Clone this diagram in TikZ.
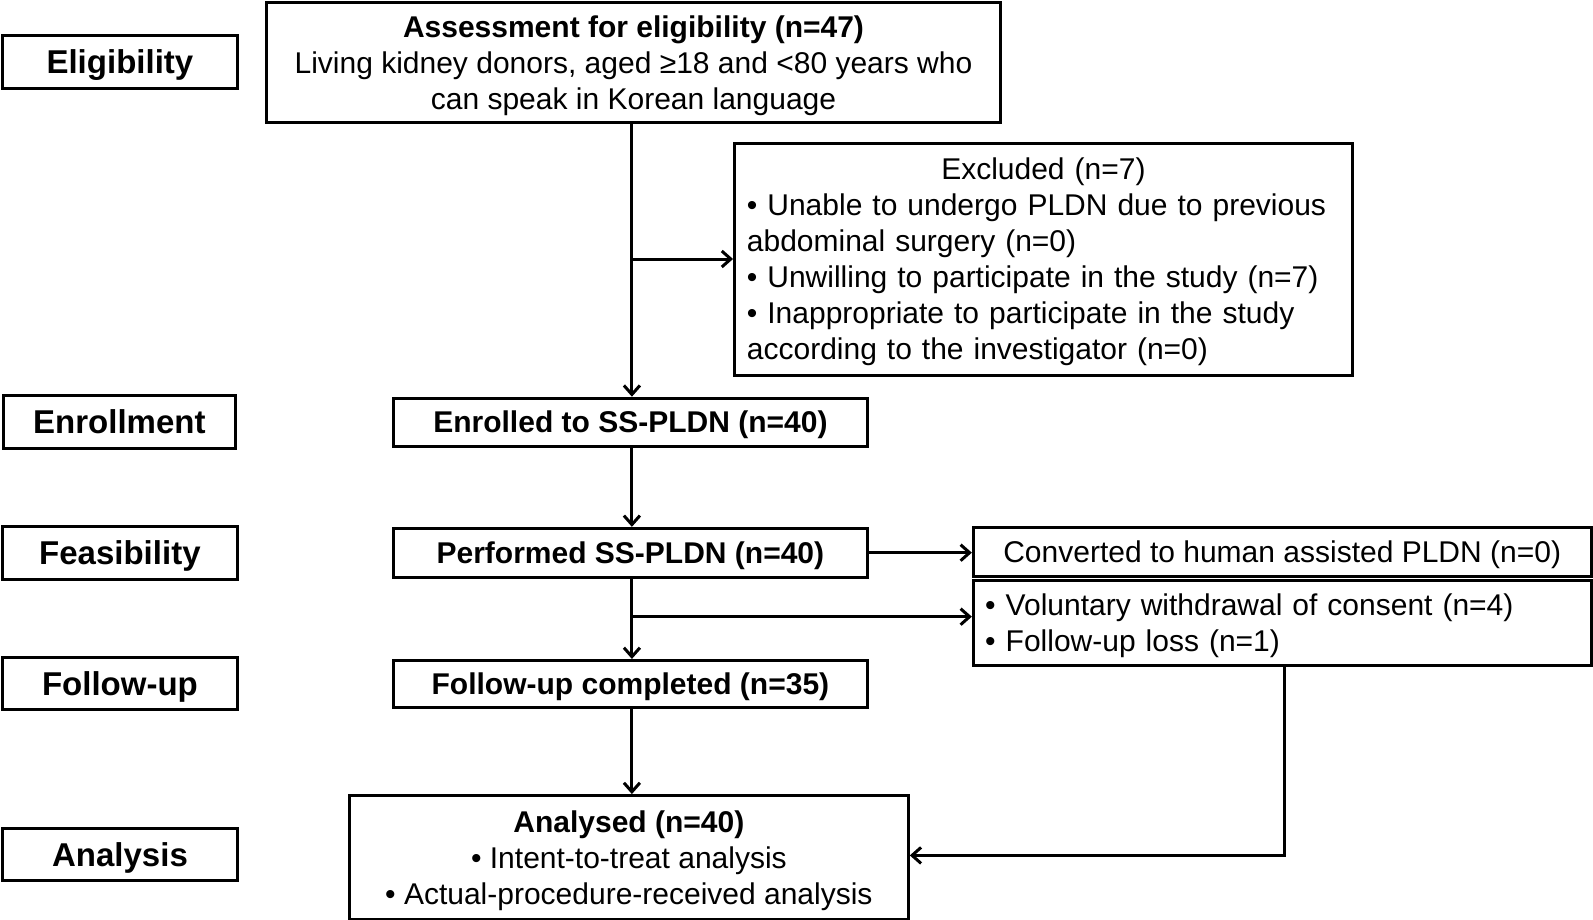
\documentclass[tikz,border=0pt]{standalone}
\usepackage{fontspec}
\setmainfont{Liberation Sans}
\usetikzlibrary{arrows.meta}
\begin{document}
\begin{tikzpicture}[x=1pt,y=-1pt,
  box/.style={draw,line width=3pt,inner sep=0pt,font=\fontsize{30}{36}\selectfont,align=center},
  cbox/.style={box,text depth=0pt},
  lbox/.style={box,align=left},
  lab/.style={draw,line width=3pt,inner sep=0pt,text depth=0pt,font=\fontsize{33}{40}\selectfont\bfseries,minimum width=235.7pt,minimum height=52.8pt},
  arr/.style={line width=3pt,-{Straight Barb[length=9pt,width=16pt,line width=3pt]}}]
\useasboundingbox[fill=white] (0,0) rectangle (1593,920);
% stage labels
\node[lab] (elig) at (119.9,62) {Eligibility};
\node[lab,minimum width=232.7pt] (enrl) at (119.4,421.6) {Enrollment};
\node[lab] (feas) at (119.9,552.7) {Feasibility};
\node[lab,minimum height=51.8pt] (fu) at (119.9,683.2) {Follow-up};
\node[lab] (ana) at (120,854.4) {Analysis};
% main boxes
\node[cbox,minimum width=734.5pt,minimum height=120.9pt] (assess) at (633.5,62.5)
  {\textbf{Assessment for eligibility (n=47)}\\Living kidney donors, aged ≥18 and <80 years who\\can speak in Korean language};
\node[lbox,minimum width=617.7pt,minimum height=232.7pt,text width=593pt,text height=27pt] (excl) at (1043.4,259.5)
  {\makebox[\linewidth]{Excluded (n=7)}\\• Unable to undergo PLDN due to previous\\abdominal surgery (n=0)\\• Unwilling to participate in the study (n=7)\\• Inappropriate to participate in the study\\according to the investigator (n=0)};
\node[cbox,minimum width=474.4pt,minimum height=47.8pt] (enrolled) at (630.4,422.1) {\textbf{Enrolled to SS-PLDN (n=40)}};
\node[cbox,minimum width=474.4pt,minimum height=48.7pt] (performed) at (630.4,552.7) {\textbf{Performed SS-PLDN (n=40)}};
\node[cbox,minimum width=617.7pt,minimum height=48.7pt] (converted) at (1282.2,551.7) {Converted to human assisted PLDN (n=0)};
\node[lbox,minimum width=617.7pt,minimum height=85.3pt,text width=594pt,text height=28pt] (withdraw) at (1282.2,622.8)
  {• Voluntary withdrawal of consent (n=4)\\• Follow-up loss (n=1)};
\node[cbox,minimum width=474.4pt,minimum height=46.7pt] (fucomp) at (630.4,683.8) {\textbf{Follow-up completed (n=35)}};
\node[cbox,minimum width=558.8pt,minimum height=123.9pt] (analysed) at (628.9,857.5)
  {\textbf{Analysed (n=40)}\\• Intent-to-treat analysis\\• Actual-procedure-received analysis};
% connectors
\coordinate (c1) at (631.9,259);
\coordinate (c2) at (631.9,616.7);
\coordinate (c3) at (1284.2,855.4);
\draw[arr] (c1 |- assess.south) -- (c1 |- enrolled.north);
\draw[arr] (c1) -- (c1 -| excl.west);
\draw[arr] (c1 |- enrolled.south) -- (c1 |- performed.north);
\draw[arr] (performed.east) -- (performed.east -| converted.west);
\draw[arr] (c1 |- performed.south) -- (c1 |- fucomp.north);
\draw[arr] (c2) -- (c2 -| withdraw.west);
\draw[arr] (c1 |- fucomp.south) -- (c1 |- analysed.north);
\draw[arr] (c3 |- withdraw.south) -- (c3) -- (c3 -| analysed.east);
\end{tikzpicture}
\end{document}
